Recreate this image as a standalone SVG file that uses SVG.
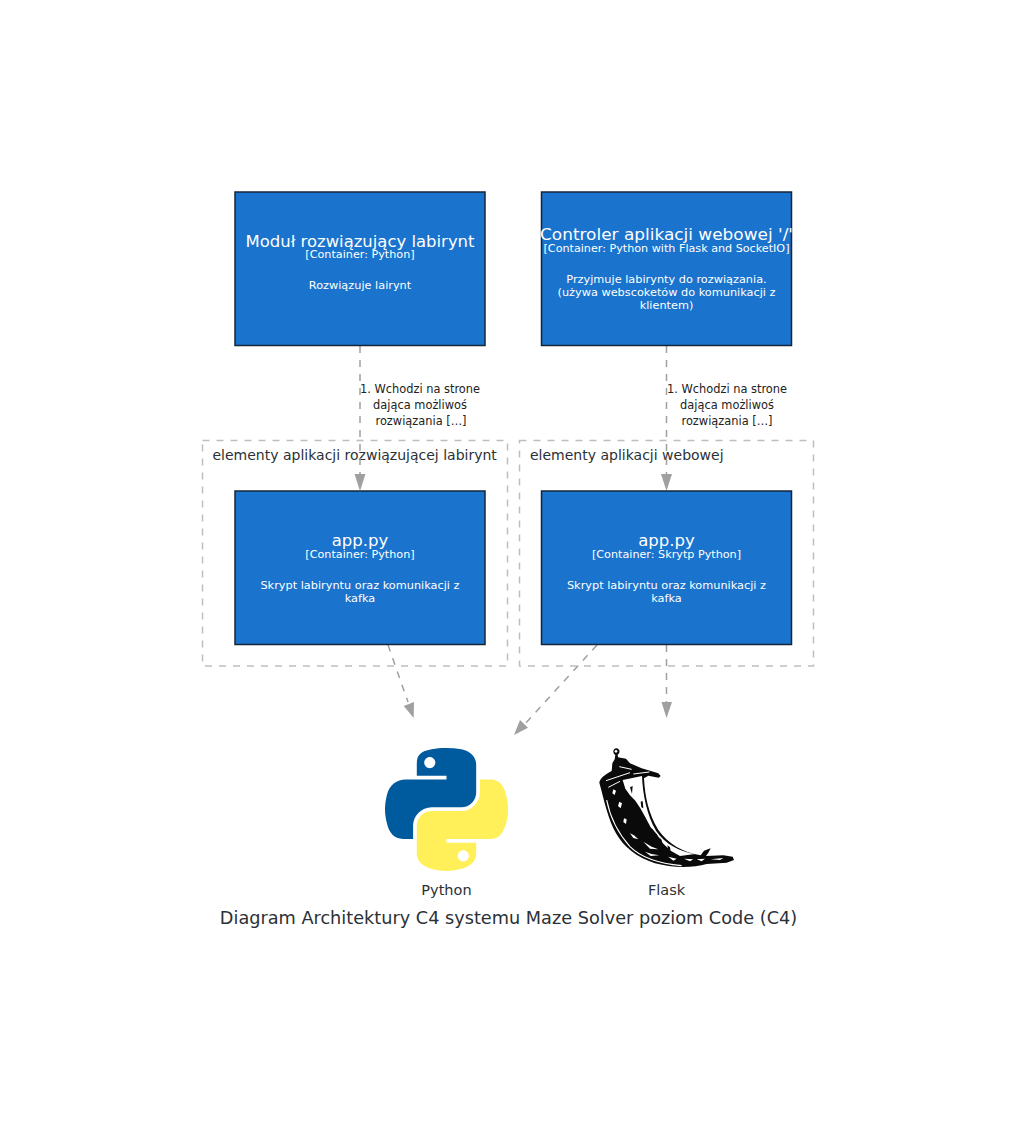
<svg xmlns="http://www.w3.org/2000/svg" width="1016" height="1127" viewBox="0 0 1016 1127">
<style>
text{font-family:"DejaVu Sans",Verdana,sans-serif;text-anchor:middle}
.box{fill:#1a73cd;stroke:#14263a;stroke-width:1.5}
.t{font-size:16.500px;fill:#fff}
.s{font-size:11.200px;fill:#fff}
.d{font-size:11.300px;fill:#fff}
.l{font-size:11.400px;fill:#222}
.b{fill:none;stroke:#bbbfc4;stroke-width:1.5;stroke-dasharray:7 7}
.c{fill:none;stroke:#a0a0a0;stroke-width:1.5;stroke-dasharray:7 7}
.a{fill:#a0a0a0}
.g{font-size:14px;fill:#2b3136;text-anchor:start}
.i{font-size:14.500px;fill:#2b3136}
.w{fill:#fff}
.k{fill:#0a0a0a}
</style>
<rect width="1016" height="1127" fill="#fff"/>
<g id="boundary-solver"><rect class="b" x="202.500" y="440.500" width="305" height="225.500"/><text class="g" x="212.500" y="460">elementy aplikacji rozwiązującej labirynt</text></g>
<g id="boundary-web"><rect class="b" x="519.500" y="440.500" width="294" height="225.500"/><text class="g" x="530" y="460">elementy aplikacji webowej</text></g>
<g id="connectors">
<path class="c" d="M360 346V476"/><polygon class="a" points="354.500,474 365.500,474 360,491"/>
<path class="c" d="M666.500 346V476"/><polygon class="a" points="661,474 672,474 666.500,491"/>
<path class="c" d="M388 645L408 702"/><polygon class="a" points="403.700,706 414,702 413.700,718"/>
<path class="c" d="M597 645L524 725"/><polygon class="a" points="520,720 528,727.700 514,735"/>
<path class="c" d="M666.500 645V703"/><polygon class="a" points="661.500,702 672,702 666.500,718"/>
<text class="l" x="420" y="393">1. Wchodzi na strone</text><text class="l" x="420" y="409">dająca możliwoś</text><text class="l" x="421" y="425">rozwiązania […]</text>
<text class="l" x="727" y="393">1. Wchodzi na strone</text><text class="l" x="727" y="409">dająca możliwoś</text><text class="l" x="727" y="425">rozwiązania […]</text>
</g>
<g id="solver"><rect class="box" x="235" y="192" width="250" height="153.500"/><text class="t" x="360" y="247" textLength="229" lengthAdjust="spacingAndGlyphs">Moduł rozwiązujący labirynt</text><text class="s" x="360" y="258">[Container: Python]</text><text class="d" x="360" y="289">Rozwiązuje lairynt</text></g>
<g id="controller"><rect class="box" x="541.500" y="192" width="250" height="153.500"/><text class="t" x="666.500" y="240" textLength="253" lengthAdjust="spacingAndGlyphs">Controler aplikacji webowej '/'</text><text class="s" x="666.500" y="252" textLength="246" lengthAdjust="spacingAndGlyphs">[Container: Python with Flask and SocketIO]</text><text class="d" x="666.500" y="283">Przyjmuje labirynty do rozwiązania.</text><text class="d" x="666.500" y="296">(używa webscoketów do komunikacji z</text><text class="d" x="666.500" y="309">klientem)</text></g>
<g id="app-solver"><rect class="box" x="235" y="491" width="250" height="153.500"/><text class="t" x="360" y="546">app.py</text><text class="s" x="360" y="558">[Container: Python]</text><text class="d" x="360" y="589">Skrypt labiryntu oraz komunikacji z</text><text class="d" x="360" y="602">kafka</text></g>
<g id="app-web"><rect class="box" x="541.500" y="491" width="250" height="153.500"/><text class="t" x="666.500" y="546">app.py</text><text class="s" x="666.500" y="558">[Container: Skrytp Python]</text><text class="d" x="666.500" y="589">Skrypt labiryntu oraz komunikacji z</text><text class="d" x="666.500" y="602">kafka</text></g>
<g id="python">
<g transform="translate(385,748) scale(1.108,1.095)">
<path fill="#005a9e" fill-rule="evenodd" d="M54.919,0.001 C50.335,0.022 45.958,0.413 42.106,1.095 C30.760,3.099 28.700,7.295 28.700,15.032 V25.250 H55.513 V28.656 H28.700 H18.638 C10.845,28.656 4.022,33.340 1.888,42.250 C-0.574,52.463 -0.683,58.836 1.888,69.500 C3.794,77.438 8.345,83.094 16.138,83.094 H25.357 V70.844 C25.357,61.994 33.014,54.188 42.106,54.188 H68.888 C76.343,54.188 82.294,48.050 82.294,40.563 V15.032 C82.294,7.766 76.164,2.307 68.888,1.095 C64.282,0.328 59.503,-0.020 54.919,0.001 Z M40.419,8.219 C43.189,8.219 45.450,10.517 45.450,13.344 C45.450,16.160 43.189,18.438 40.419,18.438 C37.640,18.438 35.388,16.160 35.388,13.344 C35.388,10.517 37.640,8.219 40.419,8.219 Z"/>
<path fill="#fff05a" fill-rule="evenodd" d="M85.638,28.656 V40.563 C85.638,49.794 77.812,57.563 68.888,57.563 H42.106 C34.770,57.563 28.700,63.841 28.700,71.188 V96.719 C28.700,103.985 35.019,108.259 42.106,110.344 C50.594,112.839 58.732,113.290 68.888,110.344 C75.638,108.389 82.294,104.456 82.294,96.719 V86.500 H55.513 V83.094 H82.294 H95.700 C103.493,83.094 106.397,77.658 109.107,69.500 C111.906,61.102 111.787,53.025 109.107,42.250 C107.181,34.492 103.503,28.656 95.700,28.656 Z M70.638,93.344 C73.417,93.344 75.669,95.622 75.669,98.438 C75.669,101.265 73.417,103.563 70.638,103.563 C67.868,103.563 65.607,101.265 65.607,98.438 C65.607,95.622 67.868,93.344 70.638,93.344 Z"/>
</g>
<text class="i" x="446.500" y="895">Python</text></g>
<g id="flask">
<g transform="translate(580,700) scale(.33333)">
<path class="k" d="M58 248C60 235 72 226 95 213L97 190L104 178L106 165C98 160 97 148 108 145C120 146 122 158 113 164L114 172L138 176L150 190L185 205L235 220L242 228L236 233L205 227L192 235C195 290 205 340 235 390C265 432 310 458 362 466L372 452L392 445L385 458L378 468L430 466L458 470L462 480L440 488L380 492C340 503 280 505 225 490C170 472 130 440 108 400C85 360 72 300 58 248Z"/>
<circle class="w" cx="108" cy="154" r="4"/>
<path class="w" d="M128 240L186 228C188 280 200 345 228 392C255 432 300 455 345 462L300 468L272 452L247 428L230 402L212 382L196 352L182 326L166 302L150 286L136 266Z"/>
<path class="k" d="M150 262L158 258L156 282ZM182 305L188 303L190 325L184 322ZM186 360L193 362L197 382L190 378ZM215 385L222 395L226 412L218 405ZM150 298L170 310L165 340L178 350L168 362L150 340L140 318ZM238 412L245 420L248 434L240 426ZM262 436L270 442L272 452L264 446Z"/>
<path fill="none" stroke="#fff" stroke-width="3.500" d="M80 300C90 350 110 395 150 440C180 470 230 490 305 497"/>
<path fill="none" stroke="#fff" stroke-width="3" d="M78 242L150 218M118 200L155 208M85 262L120 244M160 222L208 216"/>
<path class="w" d="M100 268L108 272L104 285L97 280ZM118 305L126 310L122 325L114 318ZM132 355L140 358L138 372L130 366ZM150 400L162 406L175 418L160 414ZM190 425L215 440L235 448L210 446ZM195 455L215 462L238 466L212 468ZM265 470L290 476L280 482ZM312 476L340 478L330 484ZM350 478L375 476L365 484ZM392 478L430 474L420 480Z"/>
</g>
<text class="i" x="666.500" y="895">Flask</text></g>
<text id="title" x="508.500" y="924" font-size="17.700" fill="#2b3136">Diagram Architektury C4 systemu Maze Solver poziom Code (C4)</text>
</svg>
